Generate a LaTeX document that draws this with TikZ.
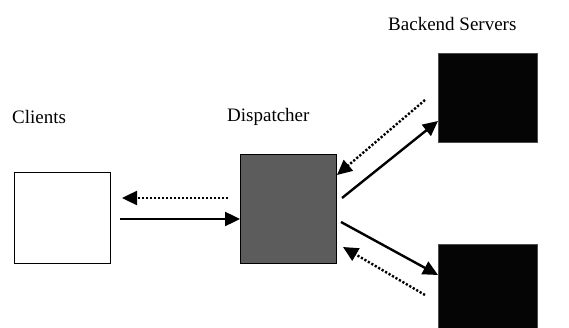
\documentclass[tikz,border=0pt]{standalone}
\usepackage{fontspec}
\setmainfont{Liberation Serif}
\newfontfamily\lblfont{Liberation Serif}
\usetikzlibrary{arrows.meta}
\begin{document}
\begin{tikzpicture}[x=1pt,y=-1pt,
  box/.style={draw=black,line width=1pt,inner sep=0pt,outer sep=0pt},
  lbl/.style={font=\lblfont\fontsize{19}{22}\selectfont,inner sep=0pt,anchor=west},
  tip/.style={-{Triangle[length=15pt,width=14pt]}},
  solidarrow/.style={tip,line width=2.4pt},
  dotarrow/.style={tip,line width=2.4pt,dash pattern=on 2.2pt off 1.8pt}]
\useasboundingbox (0,0) rectangle (569,328);
% boxes
\node[box,fill=white,minimum width=96pt,minimum height=90pt] (client) at (62,218) {};
\node[box,fill=black!64,minimum width=96pt,minimum height=108pt] (disp) at (288,209) {};
\node[box,draw=black!70,fill=black!98,minimum width=99pt,minimum height=89pt] (top) at (487.5,98.5) {};
\node[box,draw=black!70,fill=black!98,minimum width=99pt,minimum height=86pt] (bot) at (487.5,288) {};
% labels
\node[lbl] (lc) at (12,117) {Clients};
\node[lbl] (ld) at (227,117) {Dispatcher};
\node[lbl] (lb) at (388,24) {Backend Servers};
% endpoints
\coordinate (c1s) at (120,219);
\coordinate (d1e) at (disp.west |- c1s);
\coordinate (d2s) at (228,198);
\coordinate (c2e) at (122,198);
\coordinate (d3s) at (342,198);
\coordinate (t3e) at (438,121);
\coordinate (t4s) at (425,100);
\coordinate (d4e) at (337,175);
\coordinate (d5s) at (341,222);
\coordinate (b5e) at (438,275);
\coordinate (b6s) at (425,295);
\coordinate (d6e) at (343,247);
% connectors
\draw[solidarrow] (c1s) -- (d1e);
\draw[dotarrow] (d2s) -- (c2e);
\draw[solidarrow] (d3s) -- (t3e);
\draw[dotarrow] (t4s) -- (d4e);
\draw[solidarrow] (d5s) -- (b5e);
\draw[dotarrow] (b6s) -- (d6e);
\end{tikzpicture}
\end{document}
